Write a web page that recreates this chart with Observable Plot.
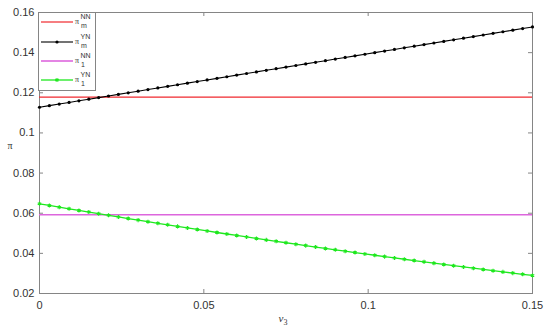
<!DOCTYPE html>
<html>
<head>
<meta charset="utf-8">
<script src="https://cdn.jsdelivr.net/npm/d3@7"></script>
<script src="https://cdn.jsdelivr.net/npm/@observablehq/plot@0.6"></script>
<style>
  html, body { margin: 0; padding: 0; background: #fff; }
  #wrap { position: relative; width: 550px; height: 328px; }
  #wrap svg { position: absolute; left: 0; top: 0; }
</style>
</head>
<body>
<div id="wrap"></div>
<script>
// ---- data ----
const v3 = [0, 0.003, 0.006, 0.009, 0.012, 0.015, 0.018, 0.021, 0.024, 0.027,
  0.030, 0.033, 0.036, 0.039, 0.042, 0.045, 0.048, 0.051, 0.054, 0.057,
  0.060, 0.063, 0.066, 0.069, 0.072, 0.075, 0.078, 0.081, 0.084, 0.087,
  0.090, 0.093, 0.096, 0.099, 0.102, 0.105, 0.108, 0.111, 0.114, 0.117,
  0.120, 0.123, 0.126, 0.129, 0.132, 0.135, 0.138, 0.141, 0.144, 0.147, 0.150];
const piMNN = 0.1178;
const pi1NN = 0.0592;
const piMYN = [0.1128, 0.1136, 0.1144, 0.1152, 0.1160, 0.1168, 0.1176, 0.1184, 0.1192, 0.1200,
  0.1208, 0.1216, 0.1224, 0.1232, 0.1240, 0.1248, 0.1256, 0.1264, 0.1272, 0.1280,
  0.1288, 0.1296, 0.1304, 0.1312, 0.1320, 0.1328, 0.1336, 0.1344, 0.1352, 0.1360,
  0.1368, 0.1376, 0.1384, 0.1392, 0.1400, 0.1408, 0.1416, 0.1424, 0.1432, 0.1440,
  0.1448, 0.1456, 0.1464, 0.1472, 0.1480, 0.1488, 0.1496, 0.1504, 0.1512, 0.1520, 0.1528];
const pi1YN = [0.0647, 0.06386, 0.06303, 0.06220, 0.06138, 0.06057, 0.05975, 0.05895, 0.05814, 0.05735,
  0.05656, 0.05577, 0.05499, 0.05421, 0.05344, 0.05267, 0.05191, 0.05115, 0.05040, 0.04965,
  0.04891, 0.04817, 0.04744, 0.04671, 0.04599, 0.04528, 0.04456, 0.04386, 0.04315, 0.04246,
  0.04177, 0.04108, 0.04040, 0.03972, 0.03905, 0.03838, 0.03772, 0.03706, 0.03641, 0.03576,
  0.03512, 0.03448, 0.03385, 0.03322, 0.03260, 0.03199, 0.03137, 0.03077, 0.03016, 0.02957, 0.02898];
const xTicks = [0, 0.05, 0.1, 0.15];
const xTickLabels = ["0", "0.05", "0.1", "0.15"];
const yTicks = [0.02, 0.04, 0.06, 0.08, 0.1, 0.12, 0.14, 0.16];
const yTickLabels = ["0.02", "0.04", "0.06", "0.08", "0.1", "0.12", "0.14", "0.16"];

const colors = {mNN: "#f0282e", mYN: "#000000", oneNN: "#dd66dd", oneYN: "#1ee81e"};

const W = 550, H = 328, mL = 39, mR = 18, mT = 12, mB = 35;
const innerW = W - mL - mR, innerH = H - mT - mB, tk = 4;
const axisColor = "#858585";

const rowsMYN = v3.map((x, i) => ({x, y: piMYN[i]}));
const rows1YN = v3.map((x, i) => ({x, y: pi1YN[i]}));

const chart = Plot.plot({
  width: W, height: H,
  marginLeft: mL, marginRight: mR, marginTop: mT, marginBottom: mB,
  style: {fontFamily: "Liberation Sans, Arial, sans-serif", fontSize: "11px", color: "#333", background: "transparent"},
  x: {domain: [0, 0.15]},
  y: {domain: [0.02, 0.16]},
  marks: [
    Plot.frame({stroke: axisColor, strokeWidth: 1}),
    // inward ticks on all four sides
    Plot.tickX(xTicks, {x: d => d, stroke: axisColor, insetTop: innerH - tk}),
    Plot.tickX(xTicks, {x: d => d, stroke: axisColor, insetBottom: innerH - tk}),
    Plot.tickY(yTicks, {y: d => d, stroke: axisColor, insetRight: innerW - tk}),
    Plot.tickY(yTicks, {y: d => d, stroke: axisColor, insetLeft: innerW - tk}),
    Plot.axisX({ticks: xTicks, tickFormat: (d, i) => xTickLabels[i], tickSize: 0, tickPadding: 8, label: null, fill: "#333"}),
    Plot.axisY({ticks: yTicks, tickFormat: (d, i) => yTickLabels[i], tickSize: 0, tickPadding: 5, label: null, fill: "#333"}),
    Plot.ruleY([piMNN], {stroke: colors.mNN, strokeWidth: 1.2}),
    Plot.ruleY([pi1NN], {stroke: colors.oneNN, strokeWidth: 1.6}),
    Plot.line(rowsMYN, {x: "x", y: "y", stroke: colors.mYN, strokeWidth: 1.1}),
    Plot.dot(rowsMYN, {x: "x", y: "y", r: 1.6, fill: colors.mYN}),
    Plot.line(rows1YN, {x: "x", y: "y", stroke: colors.oneYN, strokeWidth: 1.3}),
    Plot.dot(rows1YN, {x: "x", y: "y", r: 1.9, symbol: "asterisk", stroke: colors.oneYN, strokeWidth: 1.1})
  ]
});
document.getElementById("wrap").appendChild(chart);

// ---- axis labels and legend overlay ----
const svg = d3.select("#wrap").append("svg").attr("width", W).attr("height", H)
  .style("font-family", "Liberation Serif, Times New Roman, serif");

// y label
svg.append("text").attr("x", 10).attr("y", 149).attr("text-anchor", "middle")
  .attr("font-size", 10).attr("fill", "#333").text("π");
// x label v_3
const xl = svg.append("text").attr("x", 283).attr("y", 322).attr("text-anchor", "middle")
  .attr("font-size", 11).attr("fill", "#333");
xl.append("tspan").attr("font-style", "italic").text("v");
xl.append("tspan").attr("font-size", 8).attr("dy", 3).text("3");

// legend
const lg = svg.append("g");
lg.append("rect").attr("x", 38.5).attr("y", 12.5).attr("width", 57).attr("height", 78)
  .attr("fill", "#fff").attr("stroke", axisColor);
const entries = [
  {c: colors.mNN, sup: "NN", sub: "m", mark: null, w: 1.2},
  {c: colors.mYN, sup: "YN", sub: "m", mark: "dot", w: 1.1},
  {c: colors.oneNN, sup: "NN", sub: "1", mark: null, w: 1.6},
  {c: colors.oneYN, sup: "YN", sub: "1", mark: "star", w: 1.3}
];
const rowY = [22, 42, 61, 80];
entries.forEach((e, i) => {
  const y = rowY[i];
  lg.append("line").attr("x1", 41).attr("x2", 73).attr("y1", y).attr("y2", y)
    .attr("stroke", e.c).attr("stroke-width", e.w);
  if (e.mark === "dot") lg.append("circle").attr("cx", 57).attr("cy", y).attr("r", 1.6).attr("fill", e.c);
  if (e.mark === "star") lg.append("path").attr("transform", `translate(57,${y})`)
    .attr("d", d3.symbol(d3.symbolAsterisk, 12)()).attr("stroke", e.c).attr("stroke-width", 1.1).attr("fill", "none");
  const g = lg.append("g").attr("font-family", "Liberation Sans, Arial, sans-serif").attr("fill", "#333");
  g.append("text").attr("x", 75).attr("y", y + 2).attr("font-size", 8).attr("font-family", "Liberation Serif, serif").text("π");
  g.append("text").attr("x", 80.5).attr("y", y - 3).attr("font-size", 7).text(e.sup);
  g.append("text").attr("x", 81).attr("y", y + 6).attr("font-size", 7).text(e.sub);
});
</script>
</body>
</html>
